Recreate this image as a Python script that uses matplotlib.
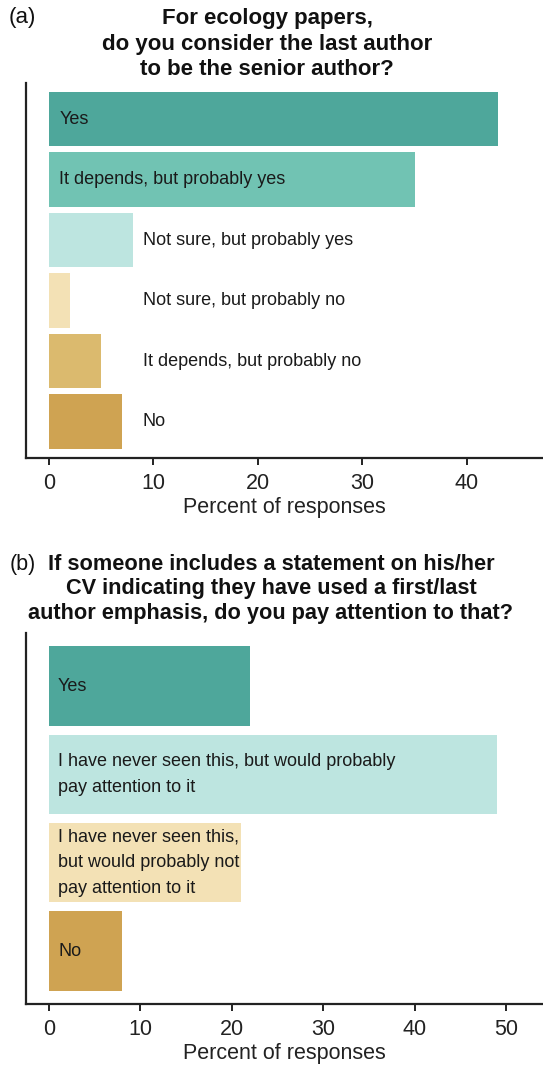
import matplotlib
matplotlib.use("Agg")
import matplotlib.pyplot as plt

plt.rcParams["font.family"] = ["Liberation Sans", "DejaVu Sans"]

# panel (a)
cats_a = ["Yes", "It depends, but probably yes", "Not sure, but probably yes",
          "Not sure, but probably no", "It depends, but probably no", "No"]
pct_a = [43, 35, 8, 2, 5, 7]
colors_a = ["#4ea79b", "#71c3b3", "#bde5e0", "#f3e1b5", "#dbba6e", "#cfa352"]
title_a = ["For ecology papers,", "do you consider the last author",
           "to be the senior author?"]

# panel (b)
cats_b = ["Yes",
          "I have never seen this, but would probably\npay attention to it",
          "I have never seen this,\nbut would probably not\npay attention to it",
          "No"]
pct_b = [22, 49, 21, 8]
colors_b = ["#4ea79b", "#bde5e0", "#f3e1b5", "#cfa352"]
title_b = ["If someone includes a statement on his/her",
           "CV indicating they have used a first/last",
           "author emphasis, do you pay attention to that?"]


def panel(ax, cats, vals, colors, xlim, ticks, outside_below=None):
    n = len(cats)
    ypos = list(range(n - 1, -1, -1))
    ax.barh(ypos, vals, height=0.9, color=colors, linewidth=0)
    for y, c, v in zip(ypos, cats, vals):
        x = 9.0 if (outside_below is not None and v < outside_below) else 1.0
        ax.text(x, y, c, va="center", ha="left", fontsize=13,
                color="#1a1a1a", linespacing=1.7)
    ax.set_ylim(-0.6, n - 0.4)
    ax.set_xlim(*xlim)
    ax.set_xticks(ticks)
    ax.set_yticks([])
    for s in ["top", "right"]:
        ax.spines[s].set_visible(False)
    for s in ["left", "bottom"]:
        ax.spines[s].set_linewidth(1.6)
        ax.spines[s].set_color("#222222")
    ax.tick_params(axis="x", labelsize=15.5, length=5, width=1.4, pad=6,
                   colors="#222222")
    ax.set_xlabel("Percent of responses", fontsize=15.5, labelpad=2,
                  color="#222222")


def title_lines(fig, lines, xc, tops, size):
    for line, top in zip(lines, tops):
        fig.text(xc, 1 - top / 1067, line, ha="center", va="top",
                 fontsize=size, fontweight="bold", color="#111111")


fig = plt.figure(figsize=(5.43, 10.67), dpi=100)

ax_a = fig.add_axes([0.0479, 0.5708, 0.9521, 0.3515])
panel(ax_a, cats_a, pct_a, colors_a, (-2.2, 47.3), [0, 10, 20, 30, 40],
      outside_below=10)

ax_b = fig.add_axes([0.0479, 0.0590, 0.9521, 0.3477])
panel(ax_b, cats_b, pct_b, colors_b, (-2.5, 54.0), [0, 10, 20, 30, 40, 50])

title_lines(fig, title_a, 0.492, [8, 34, 59], 16)
fig.text(9 / 543, 1 - 7 / 1067, "(a)", ha="left", va="top", fontsize=16,
         color="#111111")

title_lines(fig, title_b, 0.499, [554, 578, 603], 15.7)
fig.text(10 / 543, 1 - 554 / 1067, "(b)", ha="left", va="top", fontsize=15.5,
         color="#111111")

fig.savefig("out.png", dpi=100)
